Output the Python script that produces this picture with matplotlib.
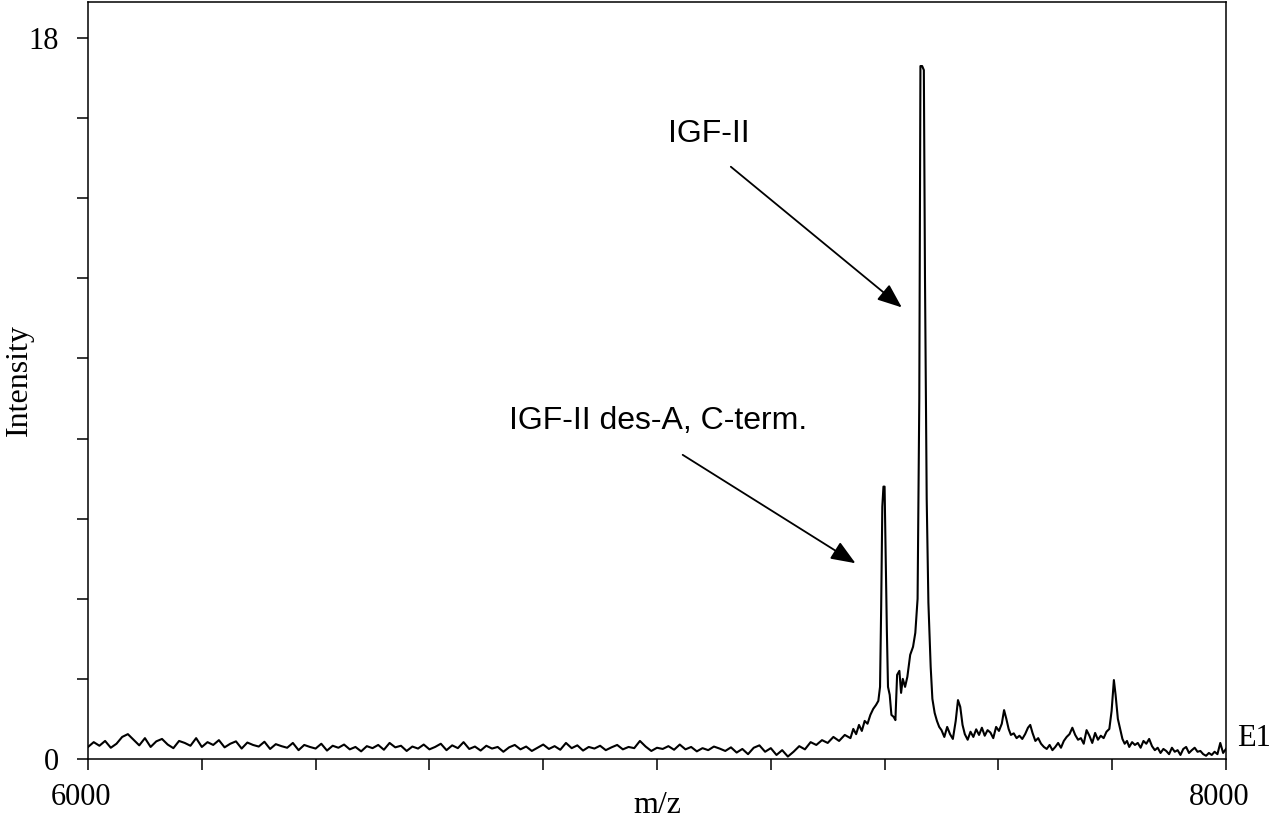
import numpy as np
import matplotlib.pyplot as plt
from matplotlib.transforms import ScaledTranslation

# baseline noise, 6000-7300 step 10
base_mz = list(range(6000, 7310, 10))
base_int = [
    0.30, 0.42, 0.33, 0.45, 0.28, 0.38, 0.55, 0.62, 0.48, 0.34,
    0.52, 0.30, 0.44, 0.50, 0.36, 0.27, 0.45, 0.40, 0.33, 0.52,
    0.30, 0.42, 0.35, 0.47, 0.29, 0.38, 0.44, 0.26, 0.41, 0.35,
    0.31, 0.43, 0.25, 0.37, 0.32, 0.28, 0.40, 0.22, 0.35, 0.30,
    0.26, 0.38, 0.21, 0.33, 0.28, 0.36, 0.24, 0.30, 0.19, 0.32,
    0.27, 0.35, 0.23, 0.40, 0.29, 0.33, 0.20, 0.31, 0.26, 0.36,
    0.24, 0.30, 0.38, 0.22, 0.34, 0.27, 0.42, 0.25, 0.31, 0.21,
    0.33, 0.26, 0.30, 0.18, 0.29, 0.35, 0.24, 0.31, 0.20, 0.28,
    0.36, 0.25, 0.32, 0.23, 0.40, 0.27, 0.34, 0.21, 0.30, 0.26,
    0.33, 0.22, 0.29, 0.35, 0.24, 0.30, 0.27, 0.45, 0.31, 0.20,
    0.28, 0.25, 0.32, 0.23, 0.36, 0.24, 0.30, 0.19, 0.27, 0.22,
    0.31, 0.26, 0.20, 0.29, 0.16, 0.25, 0.12, 0.28, 0.34, 0.18,
    0.27, 0.10, 0.22, 0.06, 0.18, 0.32, 0.24, 0.42, 0.35, 0.47,
    0.40,
]

# peak region
peak_mz = [
    7310, 7320, 7330, 7340, 7345, 7350, 7355, 7360, 7365, 7370, 7375, 7380,
    7385, 7389, 7392, 7394, 7396, 7398, 7400, 7402, 7404, 7406, 7409, 7412,
    7416, 7419, 7422, 7426, 7429, 7432, 7436, 7440, 7445, 7450, 7454, 7458,
    7461, 7463, 7466, 7469, 7471, 7474, 7477, 7481, 7484, 7488, 7492, 7496,
    7500, 7505, 7510, 7515, 7520, 7525, 7529, 7533, 7537, 7541, 7546, 7551,
    7556, 7561, 7566, 7571, 7576, 7581, 7586, 7591, 7596, 7601, 7606, 7610,
    7614, 7618, 7622, 7627, 7632, 7637, 7642, 7647, 7652, 7656, 7660, 7665,
    7670, 7675, 7680, 7685, 7690, 7695, 7700, 7705, 7710, 7715, 7720, 7725,
    7730, 7735, 7740, 7745, 7750, 7755, 7760, 7765, 7770, 7775, 7780, 7785,
    7790, 7795, 7799, 7803, 7806, 7810, 7814, 7818, 7822, 7826, 7830, 7835,
    7840, 7845, 7850, 7855, 7860, 7865, 7870, 7875, 7880, 7885, 7890, 7895,
    7900, 7905, 7910, 7915, 7920, 7925, 7930, 7935, 7940, 7945, 7950, 7955,
    7960, 7965, 7970, 7975, 7980, 7985, 7990, 7995, 8000,
]
peak_int = [
    0.55, 0.45, 0.60, 0.52, 0.75, 0.62, 0.85, 0.70, 0.95, 0.88, 1.10, 1.25,
    1.35, 1.45, 1.80, 3.80, 6.30, 6.80, 6.80, 5.00, 3.20, 1.80, 1.60, 1.10,
    1.05, 0.97, 2.10, 2.20, 1.65, 2.00, 1.80, 2.05, 2.60, 2.80, 3.15, 4.00,
    9.00, 17.3, 17.3, 17.2, 12.0, 6.50, 3.90, 2.30, 1.50, 1.15, 0.95, 0.80,
    0.72, 0.55, 0.80, 0.62, 0.50, 0.95, 1.47, 1.30, 0.85, 0.62, 0.48, 0.68,
    0.55, 0.74, 0.60, 0.78, 0.58, 0.72, 0.66, 0.52, 0.80, 0.70, 0.88, 1.22,
    1.00, 0.75, 0.60, 0.64, 0.52, 0.58, 0.50, 0.62, 0.78, 0.85, 0.65, 0.45,
    0.52, 0.38, 0.30, 0.25, 0.35, 0.22, 0.30, 0.40, 0.28, 0.45, 0.55, 0.62,
    0.78, 0.60, 0.48, 0.52, 0.38, 0.72, 0.58, 0.40, 0.65, 0.48, 0.58, 0.52,
    0.68, 0.75, 1.20, 1.97, 1.60, 1.00, 0.75, 0.50, 0.38, 0.45, 0.30, 0.42,
    0.35, 0.40, 0.28, 0.45, 0.38, 0.50, 0.32, 0.22, 0.28, 0.15, 0.25, 0.20,
    0.12, 0.28, 0.18, 0.22, 0.10, 0.25, 0.30, 0.15, 0.22, 0.28, 0.18, 0.20,
    0.12, 0.08, 0.15, 0.10, 0.18, 0.12, 0.40, 0.15, 0.25,
]

mz = np.array(base_mz + peak_mz)
intensity = np.array(base_int + peak_int)

fig = plt.figure(figsize=(12.74, 8.19), dpi=100)
ax = fig.add_axes([0.0691, 0.0733, 0.8932, 0.9243])

ax.plot(mz, intensity, color='black', lw=1.5)

ax.set_xlim(6000, 8000)
ax.set_ylim(0, 18.9)
ax.set_xticks(np.arange(6000, 8001, 200))
ax.set_xticklabels(['6000'] + [''] * 9 + ['8000'])
ax.set_yticks(np.arange(0, 19, 2))
ax.set_yticklabels(['0'] + [''] * 8 + ['18'])

serif = 'Liberation Serif'
ax.tick_params(axis='both', direction='out', length=8, width=1.1)
ax.tick_params(axis='y', pad=13)
ax.tick_params(axis='x', pad=9)
shift = ScaledTranslation(-0.07, 0, fig.dpi_scale_trans)
for lab in ax.get_xticklabels():
    lab.set_fontfamily(serif)
    lab.set_fontsize(22)
    lab.set_transform(lab.get_transform() + shift)
for lab in ax.get_yticklabels():
    lab.set_fontfamily(serif)
    lab.set_fontsize(22)
for s in ax.spines.values():
    s.set_linewidth(1.1)

ax.set_xlabel('m/z', family=serif, fontsize=23, va='center')
ax.xaxis.set_label_coords(0.5, -0.061)
ax.set_ylabel('Intensity', family=serif, fontsize=23, va='center')
ax.yaxis.set_label_coords(-0.0605, 0.5)

# annotations
sans = 'Liberation Sans'
ax.text(7020, 15.4, 'IGF-II', family=sans, fontsize=23)
ax.text(6740, 8.23, 'IGF-II des-A, C-term.', family=sans, fontsize=23)
arrow = dict(arrowstyle='-|>,head_length=1.5,head_width=0.6', color='black', lw=1.3)
ax.annotate('', xy=(7434, 11.23), xytext=(7126, 14.83), arrowprops=arrow)
ax.annotate('', xy=(7353, 4.85), xytext=(7041, 7.63), arrowprops=arrow)

fig.text(0.971, 0.0891, 'E1', family=serif, fontsize=22)

fig.savefig('out.png', dpi=100)
